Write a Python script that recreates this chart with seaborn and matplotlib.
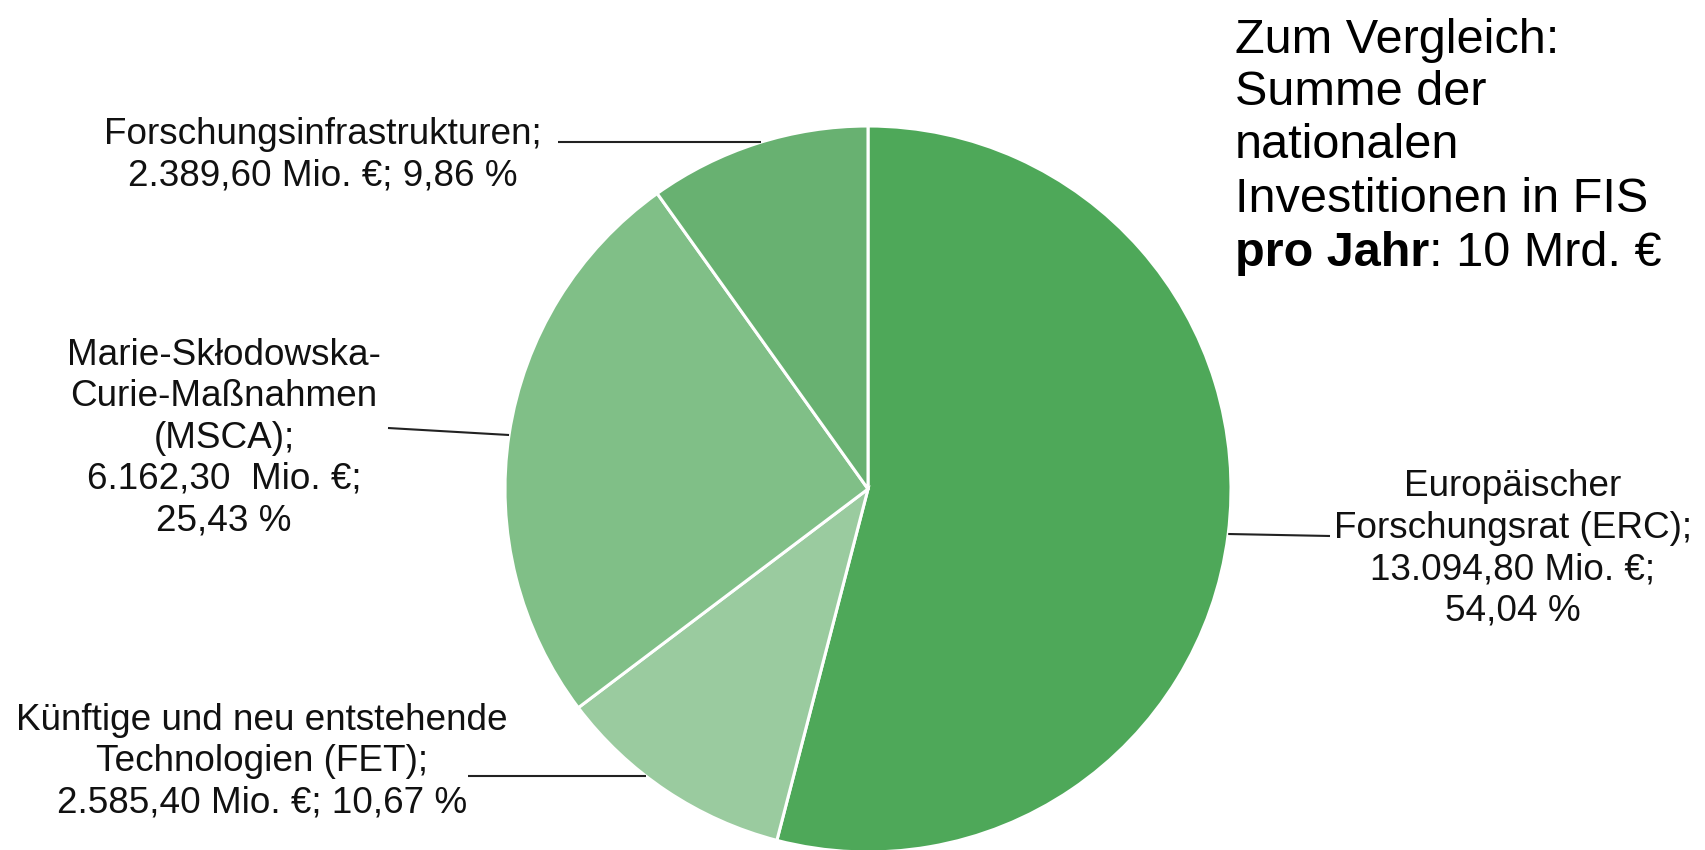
import numpy as np
import matplotlib
matplotlib.use("Agg")
import matplotlib.pyplot as plt
import seaborn as sns

# ---- data ----
categories = ["Europäischer Forschungsrat (ERC)",
              "Künftige und neu entstehende Technologien (FET)",
              "Marie-Skłodowska-Curie-Maßnahmen (MSCA)",
              "Forschungsinfrastrukturen"]
values_mio = [13094.80, 2585.40, 6162.30, 2389.60]
shares_pct = [54.04, 10.67, 25.43, 9.86]
label_texts = [
    "Europäischer\nForschungsrat (ERC);\n13.094,80 Mio. €;\n54,04 %",
    "Künftige und neu entstehende\nTechnologien (FET);\n2.585,40 Mio. €; 10,67 %",
    "Marie-Skłodowska-\nCurie-Maßnahmen\n(MSCA);\n6.162,30  Mio. €;\n25,43 %",
    "Forschungsinfrastrukturen;\n2.389,60 Mio. €; 9,86 %",
]
colors = ["#4ea859", "#9acb9f", "#80bf87", "#68b171"]
note_lines = ["Zum Vergleich:", "Summe der", "nationalen", "Investitionen in FIS"]
note_bold = "pro Jahr"
note_rest = ": 10 Mrd. €"

# ---- style ----
sns.set_theme(style="white")
plt.rcParams['font.family'] = ['Liberation Sans', 'DejaVu Sans']

W, H = 1706, 850
fig = plt.figure(figsize=(W / 100, H / 100), dpi=100)
ax = fig.add_axes([0, 0, 1, 1])

cx, cy, R = 868, H - 489, 363
wedges, _ = ax.pie(values_mio, colors=colors, startangle=90, counterclock=False,
                   center=(cx, cy), radius=R,
                   wedgeprops=dict(edgecolor="white", linewidth=2.2))
ax.set_xlim(0, W)
ax.set_ylim(0, H)
ax.set_aspect("equal")
ax.axis("off")

# label centers and leader geometry (layout)
label_pos = [(1513, H - 549), (262, H - 762), (224, H - 438), (323, H - 155)]
leader_start = [(1330, H - 536), (468, H - 776), (388, H - 428), (558, H - 142)]
leader_end_y = [H - 534, H - 776, H - 435, H - 142]

fs = 26.6
for w, txt, (lx, ly), (sx, sy), ey in zip(wedges, label_texts, label_pos,
                                           leader_start, leader_end_y):
    mid = np.deg2rad((w.theta1 + w.theta2) / 2)
    side = np.sign(np.cos(mid))
    ex = cx + side * np.sqrt(max(R ** 2 - (ey - cy) ** 2, 0))
    ax.plot([sx, ex], [sy, ey], color="#222222", lw=1.5, solid_capstyle="butt")
    ax.text(lx, ly, txt, ha="center", va="center", multialignment="center",
            fontsize=fs, color="#111111", linespacing=1.24)

# comparison note
nfs = 35
x0 = 1235
line_y = [40, 92, 145, 199, 253]
for t, yy in zip(note_lines, line_y[:4]):
    ax.text(x0, H - yy, t, ha="left", va="center", fontsize=nfs, color="black")
tb = ax.text(x0, H - line_y[4], note_bold, ha="left", va="center", fontsize=nfs,
             fontweight="bold", color="black")
fig.canvas.draw()
bb = tb.get_window_extent(renderer=fig.canvas.get_renderer())
ax.text(bb.x1, H - line_y[4], note_rest, ha="left", va="center", fontsize=nfs, color="black")

fig.savefig("out.png", dpi=100, facecolor="white")
